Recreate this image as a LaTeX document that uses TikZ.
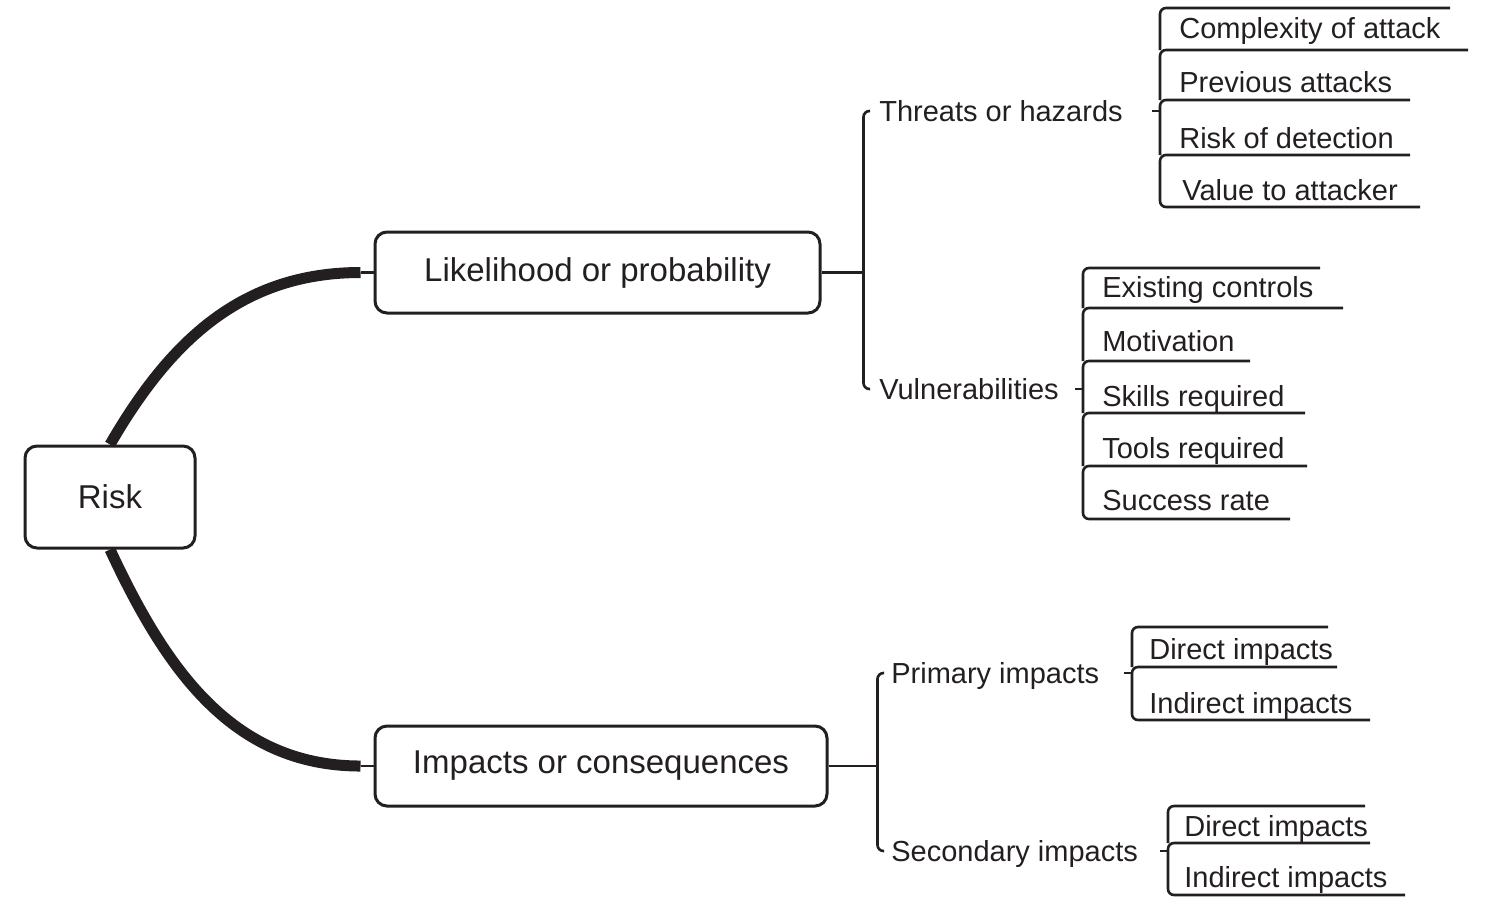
\documentclass[tikz,border=0pt]{standalone}
\usepackage{fontspec}
\setmainfont{Liberation Sans}
\usetikzlibrary{calc}
\definecolor{ink}{HTML}{231F20}
\newcommand{\topicfont}{\fontsize{16.5pt}{19pt}\selectfont}
\newcommand{\leaffont}{\fontsize{14.5pt}{17pt}\selectfont}

\begin{document}
\begin{tikzpicture}[x=0.5pt,y=-0.5pt,line width=1.3pt,draw=ink,text=ink,
  topic/.style={draw,rounded corners=6pt,line width=1.5pt,inner sep=0pt,font=\topicfont},
  sub/.style={anchor=west,inner sep=0pt,text height=10.4pt,text depth=0pt,font=\leaffont},
  branch/.style={line width=5.5pt}]
\useasboundingbox (0,0) rectangle (1497,902);

% main topics
\node[topic,minimum width=85pt,minimum height=51pt,text depth=0pt] (risk) at (110,497){Risk};
\node[topic,minimum width=222.5pt,minimum height=40.5pt] (lik) at (597.5,272.5){Likelihood or probability};
\node[topic,minimum width=226pt,minimum height=40pt] (imp) at (601,766){Impacts or consequences};
\coordinate (lk) at ([xshift=-6.5pt]lik.west);
\coordinate (ik) at ([xshift=-6.5pt]imp.west);
\draw[branch] (risk.north) to[out=60,in=180] (lk);
\draw (lk) -- (lik.west);
\draw[branch] (risk.south) to[out=-65,in=180] (ik);
\draw (ik) -- (imp.west);

% second level
\node[sub] (thr) at (878,111){Threats or hazards};
\node[sub] (vul) at (878,389){Vulnerabilities};
\node[sub] (pri) at (890,673){Primary impacts};
\node[sub] (sec) at (890,851){Secondary impacts};
\coordinate (ls) at ([xshift=21pt]lik.east);
\coordinate (is) at ([xshift=24.5pt]imp.east);
\draw (lik.east) -- (ls);
\draw[rounded corners=3pt] ([xshift=-4pt]thr.west) -| (ls) |- ([xshift=-4pt]vul.west);
\draw (imp.east) -- (is);
\draw[rounded corners=3pt] ([xshift=-3pt]pri.west) -| (is) |- ([xshift=-3pt]sec.west);

% threats
\node[sub] (c1) at (1178,28){Complexity of attack};
\node[sub] (c2) at (1178,82){Previous attacks};
\node[sub] (c3) at (1178,138){Risk of detection};
\node[sub] (c4) at (1181,190){Value to attacker};
\coordinate (ts) at (1160,108);
\draw (thr.east -| ts) -- ++(-4pt,0);
\draw[rounded corners=3pt] (1450,8) -- (1160,8) -- (1160,50);
\draw[rounded corners=3pt] (1468,50) -- (1160,50) -- (1160,100);
\draw[rounded corners=3pt] (1410,100) -- (1160,100) -- (1160,155);
\draw[rounded corners=3pt] (1410,155) -- (1160,155) -- (1160,207) -- (1420,207);

% vulnerabilities
\node[sub] (v1) at (1101,287){Existing controls};
\node[sub] (v2) at (1101,341){Motivation};
\node[sub] (v3) at (1101,396){Skills required};
\node[sub] (v4) at (1101,448){Tools required};
\node[sub] (v5) at (1101,500){Success rate};
\coordinate (vs) at (1083,395);
\draw (vul.east -| vs) -- ++(-4pt,0);
\draw[rounded corners=3pt] (1320,268) -- (1083,268) -- (1083,308);
\draw[rounded corners=3pt] (1343,308) -- (1083,308) -- (1083,361);
\draw[rounded corners=3pt] (1250,361) -- (1083,361) -- (1083,413);
\draw[rounded corners=3pt] (1305,413) -- (1083,413) -- (1083,466);
\draw[rounded corners=3pt] (1307,466) -- (1083,466) -- (1083,519) -- (1290,519);

% primary impacts
\node[sub] (p1) at (1148,649){Direct impacts};
\node[sub] (p2) at (1148,703){Indirect impacts};
\coordinate (ps) at (1132,676);
\draw (pri.east -| ps) -- ++(-4pt,0);
\draw[rounded corners=3pt] (1328,627) -- (1132,627) -- (1132,667);
\draw[rounded corners=3pt] (1337,667) -- (1132,667) -- (1132,720) -- (1370,720);

% secondary impacts
\node[sub] (s1) at (1183,826){Direct impacts};
\node[sub] (s2) at (1183,877){Indirect impacts};
\coordinate (ss) at (1168,852);
\draw (sec.east -| ss) -- ++(-4pt,0);
\draw[rounded corners=3pt] (1365,806) -- (1168,806) -- (1168,843);
\draw[rounded corners=3pt] (1370,843) -- (1168,843) -- (1168,895) -- (1405,895);
\end{tikzpicture}
\end{document}
